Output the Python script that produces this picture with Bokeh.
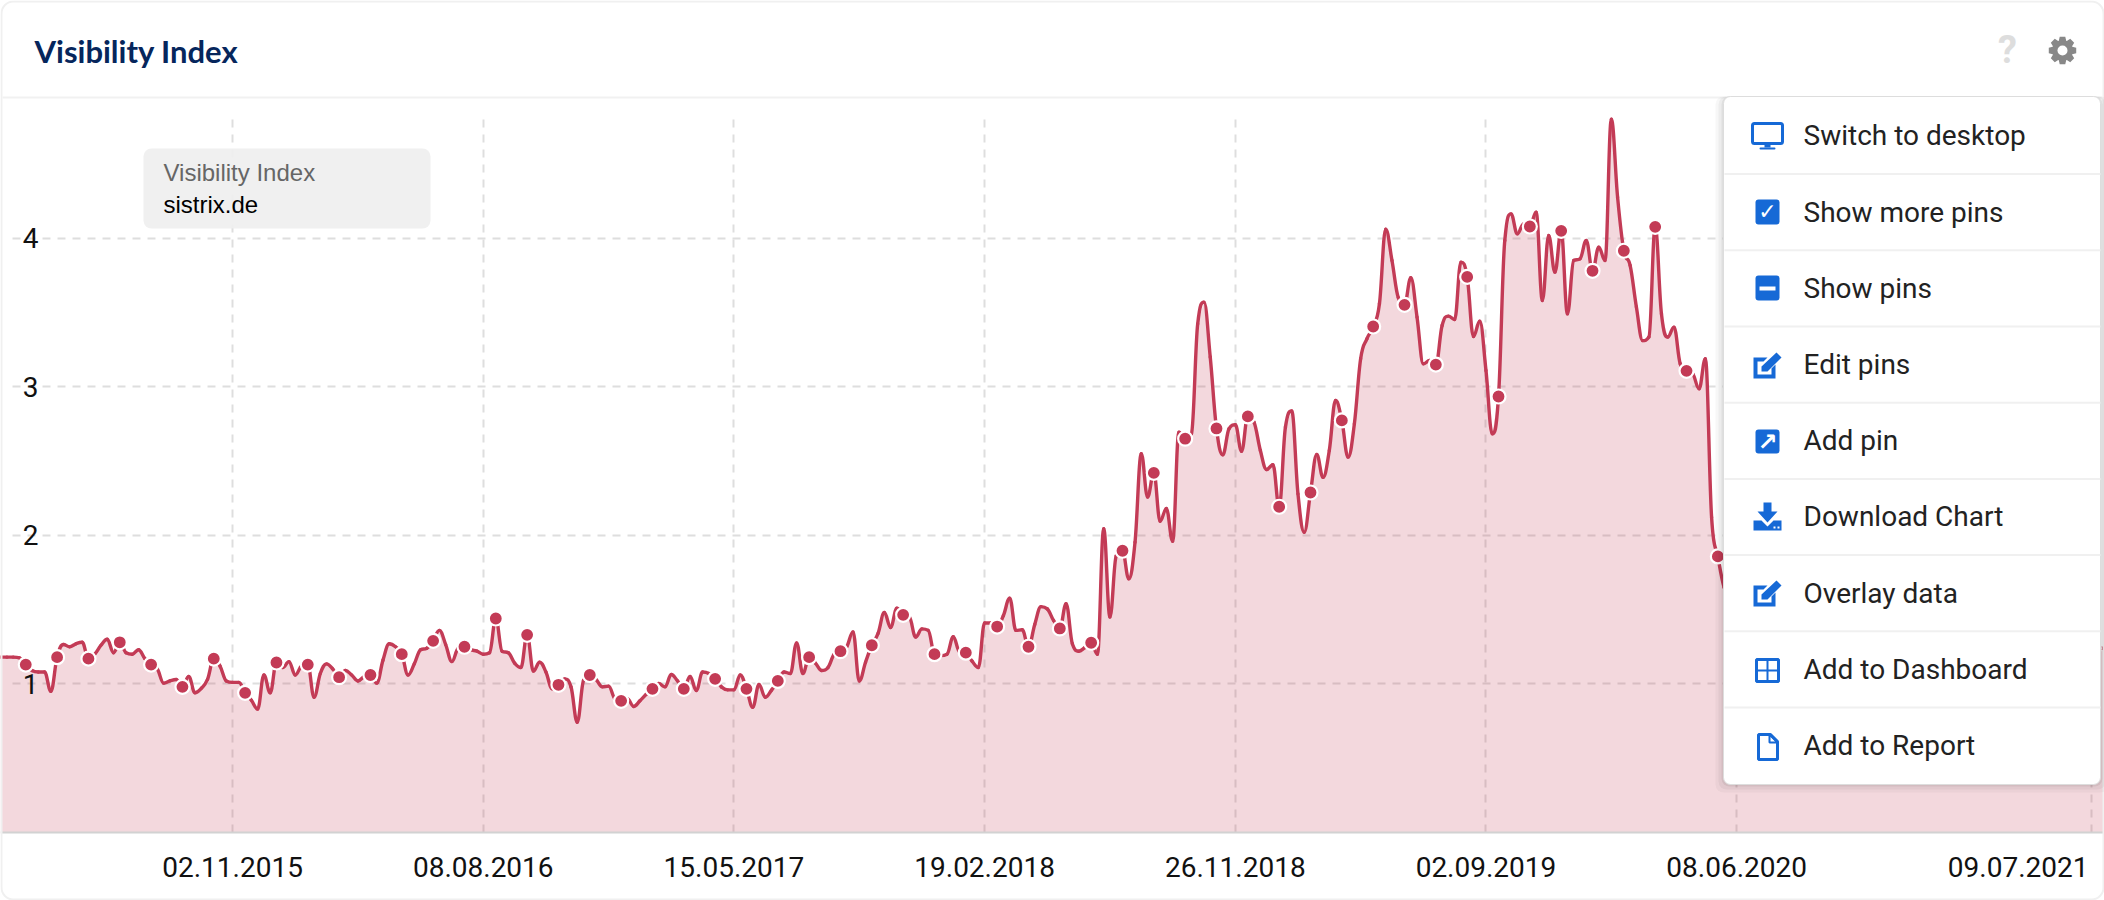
import math
from datetime import datetime, timedelta, timezone
from bokeh.embed import file_html
from bokeh.models import (BoxAnnotation, FixedTicker, Label, PolyAnnotation,
                          Range1d)
from bokeh.plotting import figure
from bokeh.resources import INLINE

# ---------- data ----------
title_text = "Visibility Index"
legend_title = "Visibility Index"
legend_domain = "sistrix.de"
tick_labels = ["02.11.2015", "08.08.2016", "15.05.2017", "19.02.2018",
               "26.11.2018", "02.09.2019", "08.06.2020", "09.07.2021"]
y_ticks = [1, 2, 3, 4]
menu_items = ["Switch to desktop", "Show more pins", "Show pins", "Edit pins",
              "Add pin", "Download Chart", "Overlay data", "Add to Dashboard",
              "Add to Report"]
first_week = "16.02.2015"

visibility_2015_16 = [
    1.18, 1.18, 1.18, 1.175, 1.13, 1.09, 1.08, 1.08, 0.95, 1.18, 1.265, 1.25,
    1.27, 1.28, 1.17, 1.20, 1.26, 1.30, 1.21, 1.28, 1.21, 1.20, 1.23, 1.17,
    1.13, 1.10, 1.005, 1.02, 1.03, 0.98, 1.05, 0.94, 0.97, 1.03, 1.17, 1.12,
    1.02, 1.01, 1.01, 0.94, 0.89, 0.83, 1.06, 0.94, 1.144, 1.11, 1.15, 1.06,
    1.12, 1.13, 0.91, 1.07, 1.135, 1.10, 1.045, 1.09, 1.06, 1.02, 1.05, 1.06,
    1.005, 1.16, 1.27, 1.25, 1.20, 1.06, 1.135, 1.23, 1.24, 1.29, 1.36, 1.265,
    1.15, 1.24, 1.25, 1.23, 1.22, 1.20, 1.21, 1.44, 1.22, 1.21, 1.14, 1.11,
]
visibility_2016_18 = [
    1.33, 1.086, 1.146, 1.08, 0.967, 0.994, 1.034, 0.98, 0.742, 1.023, 1.06,
    1.03, 0.98, 0.985, 0.90, 0.886, 0.90, 0.848, 0.886, 0.93, 0.967, 1.003,
    0.98, 1.063, 1.02, 0.967, 1.05, 0.956, 1.08, 1.07, 1.034, 0.98, 0.96, 0.96,
    1.06, 0.967, 0.843, 0.996, 0.91, 0.958, 1.02, 1.08, 1.07, 1.276, 1.07,
    1.18, 1.14, 1.09, 1.11, 1.20, 1.22, 1.25, 1.35, 1.02, 1.146, 1.26, 1.34,
    1.48, 1.38, 1.51, 1.465, 1.45, 1.315, 1.37, 1.36, 1.20, 1.19, 1.20, 1.317,
    1.216, 1.21, 1.153, 1.11, 1.41, 1.41, 1.386, 1.46, 1.577, 1.36, 1.364,
    1.25, 1.40, 1.52,
]
visibility_2018_19 = [
    1.505, 1.427, 1.373, 1.54, 1.27, 1.22, 1.245, 1.277, 1.20, 2.044, 1.45,
    1.862, 1.896, 1.707, 1.954, 2.549, 2.257, 2.42, 2.095, 2.18, 1.96, 2.694,
    2.65, 2.683, 3.423, 3.569, 3.20, 2.719, 2.542, 2.717, 2.744, 2.566, 2.80,
    2.76, 2.571, 2.443, 2.475, 2.192, 2.728, 2.836, 2.279, 2.021, 2.288, 2.544,
    2.39, 2.571, 2.907, 2.773,
]
visibility_2019_20 = [
    2.526, 2.75, 3.188, 3.322, 3.405, 3.558, 4.06, 3.849, 3.60, 3.551, 3.733,
    3.468, 3.154, 3.176, 3.149, 3.412, 3.475, 3.452, 3.838, 3.739, 3.338,
    3.441, 3.109, 2.683, 2.934, 3.984, 4.163, 4.029, 4.096, 4.078, 4.175, 3.58,
    4.017, 3.771, 4.049, 3.49, 3.849, 3.86, 3.984, 3.78, 3.939, 3.849, 4.80,
    4.276, 3.915, 3.816, 3.536, 3.31, 3.334, 4.076, 3.49, 3.334, 3.401, 3.154,
    3.107, 3.087, 2.986, 3.188, 2.122, 1.858, 1.65,
]
# weeks hidden behind the menu: rough estimates, only the fill below it shows
visibility_hidden = [
    1.58, 1.55, 1.52, 1.50, 1.54, 1.50, 1.47, 1.45, 1.48, 1.46, 1.43, 1.40,
    1.44, 1.42, 1.39, 1.37, 1.40, 1.42, 1.38, 1.36, 1.39, 1.35, 1.33, 1.36,
    1.38, 1.34, 1.32, 1.30, 1.33, 1.35, 1.31, 1.29, 1.32, 1.30, 1.28, 1.31,
    1.33, 1.29, 1.27, 1.30, 1.28, 1.26, 1.29, 1.31, 1.27, 1.25, 1.28, 1.26,
    1.24, 1.27, 1.25, 1.23, 1.26, 1.24, 1.22, 1.25, 1.24, 1.23, 1.24, 1.24,
    1.24, 1.24,
]

visibility = (visibility_2015_16 + visibility_2016_18 + visibility_2018_19
              + visibility_2019_20 + visibility_hidden)


# ---------- helpers ----------
def ms(d):
    return d.replace(tzinfo=timezone.utc).timestamp() * 1000


def parse(s):
    return datetime.strptime(s, "%d.%m.%Y")


RED = "#c33b56"
BLUE = "#1669d6"
DAY = 86400000.0
PX_DAYS = 7 / 6.267          # days per screen pixel

start = parse(first_week)
week_ms = [ms(start + timedelta(days=7 * i)) for i in range(len(visibility))]
tick_ms = [ms(parse(s)) for s in tick_labels]
pin_ms = week_ms[4::5]
pin_values = visibility[4::5]

W, H = 2104, 900
BASE_Y = 832
PX_PER_UNIT = 148.6


def x_at(px):
    return ms(start) + (px - 0.2) * PX_DAYS * DAY


p = figure(width=W, height=H, output_backend="svg", toolbar_location=None,
           x_range=Range1d(x_at(0), x_at(W)),
           y_range=Range1d((BASE_Y - H) / PX_PER_UNIT, BASE_Y / PX_PER_UNIT),
           min_border=0,
           background_fill_color="white", border_fill_color="white")
p.outline_line_color = None

# axes, both placed inside the frame
ax = p.xaxis[0]
ax.fixed_location = 0
ax.ticker = FixedTicker(ticks=tick_ms)
ax.major_label_overrides = {int(t): s for t, s in zip(tick_ms[:-1], tick_labels[:-1])}
ax.major_label_overrides[int(tick_ms[-1])] = ""
ax.major_tick_line_color = None
ax.minor_tick_line_color = None
ax.axis_line_color = "#d2d2d2"
ax.axis_line_width = 2
ax.major_label_standoff = 18
ax.major_label_text_font = "Roboto"
ax.major_label_text_font_size = "28px"
ax.major_label_text_color = "#111111"

ay = p.yaxis[0]
ay.ticker = FixedTicker(ticks=y_ticks)
ay.fixed_location = x_at(44)
ay.major_tick_line_color = None
ay.minor_tick_line_color = None
ay.axis_line_color = None
ay.major_label_standoff = 0
ay.major_label_text_font = "Roboto"
ay.major_label_text_font_size = "28px"
ay.major_label_text_color = "#111111"

for g, bounds in ((p.xgrid[0], (0, 4.8)), (p.ygrid[0], (x_at(12), x_at(2096)))):
    g.grid_line_color = "#dedede"
    g.grid_line_width = 2
    g.grid_line_dash = "8 7"
    g.cross_bounds = bounds
p.xgrid[0].ticker = FixedTicker(ticks=tick_ms)
p.ygrid[0].ticker = FixedTicker(ticks=y_ticks)

# area
p.varea(x=week_ms, y1=[0] * len(week_ms), y2=visibility,
        fill_color=RED, fill_alpha=0.2)

# spline line: one Bezier segment per week, through the read values only
n = len(week_ms)
left_y, right_y = [0.0] * n, [0.0] * n
for i in range(n):
    y = visibility[i]
    prev_y = visibility[i - 1] if i > 0 else y
    next_y = visibility[i + 1] if i < n - 1 else y
    l = y - 0.2 * (next_y - prev_y)
    r = y + 0.2 * (next_y - prev_y)
    if l > max(prev_y, y):
        l = max(prev_y, y); r = 2 * y - l
    elif l < min(prev_y, y):
        l = min(prev_y, y); r = 2 * y - l
    if r > max(next_y, y):
        r = max(next_y, y); l = 2 * y - r
    elif r < min(next_y, y):
        r = min(next_y, y); l = 2 * y - r
    left_y[i], right_y[i] = l, r
p.bezier(x0=week_ms[:-1], y0=visibility[:-1], x1=week_ms[1:], y1=visibility[1:],
         cx0=[a + 0.4 * (b - a) for a, b in zip(week_ms[:-1], week_ms[1:])], cy0=right_y[:-1],
         cx1=[b - 0.4 * (b - a) for a, b in zip(week_ms[:-1], week_ms[1:])], cy1=left_y[1:],
         line_color=RED, line_width=3.4, line_cap="round")

# pins
p.scatter(x=pin_ms, y=pin_values, size=14, fill_color=RED,
          line_color="white", line_width=2.2)


# ---------- chrome, in picture pixels ----------
def box(l, t, r, b, fill=None, line=None, lw=1, radius=0, alpha=1.0):
    p.add_layout(BoxAnnotation(
        left=l, right=r, top=t, bottom=b,
        left_units="canvas", right_units="canvas", top_units="canvas", bottom_units="canvas",
        fill_color=fill, fill_alpha=alpha if fill else 0,
        line_color=line, line_width=lw, line_alpha=1 if line else 0,
        border_radius=radius, editable=False))


def poly(points, fill=BLUE, line=None, lw=1):
    p.add_layout(PolyAnnotation(
        xs=[a for a, _ in points], ys=[b for _, b in points],
        xs_units="canvas", ys_units="canvas",
        fill_color=fill, fill_alpha=1 if fill else 0,
        line_color=line, line_width=lw, line_alpha=1 if line else 0))


def text(s, x, cy, size, color, font="Roboto", style="normal", align="left"):
    p.add_layout(Label(x=x, y=cy, x_units="canvas", y_units="canvas",
                       text=s, text_font=font, text_font_size=f"{size}px",
                       text_font_style=style, text_color=color,
                       text_align=align, text_baseline="middle"))


# last date label sits inside the right edge
text(tick_labels[-1], 2088, 866, 28, "#111111", align="right")

# card outline
box(1, 1, W - 1, H - 1, line="#f0f0f0", lw=2, radius=12)

# header
box(2, 96, W - 2, 98, fill="#f1f1f1")
text(title_text, 34, 50, 31, "#06265c", font="Lato", style="bold")
text("?", 2007, 49, 38, "#dddddd", style="bold", align="center")

# gear: eight teeth and a white hole
gear = []
for k in range(8):
    a = k * math.pi / 4
    for da, rad in ((-0.36, 10.5), (-0.2, 14), (0.2, 14), (0.36, 10.5)):
        gear.append((2062 + rad * math.cos(a + da), 50 + rad * math.sin(a + da)))
poly(gear, fill="#888888")
box(2057, 45, 2067, 55, fill="white", radius=5)

# value box
box(143, 148, 430, 228, fill="#efefef", radius=8, alpha=0.92)
text(legend_title, 163, 172, 24, "#666666", font="Liberation Sans")
text(legend_domain, 163, 204, 24, "#000000", font="Liberation Sans")

# menu
for grow, a in ((8, 0.03), (5, 0.04), (2, 0.06)):
    box(1723 - grow, 96, 2100 + grow, 784 + grow, fill="#000000", radius=8, alpha=a)
box(1723, 96, 2100, 784, fill="white", line="#dddddd", lw=1, radius=7)
ROW_H = 76.2
for k, item in enumerate(menu_items):
    cy = 135.4 + ROW_H * k
    text(item, 1803, cy, 28, "#222222")
    if k:
        box(1724, cy - 39, 2100, cy - 37, fill="#f0f0f0")

cx = 1767
# 0 monitor
box(cx - 15, 123, cx + 15, 143, line=BLUE, lw=3, radius=2)
box(cx - 3, 143, cx + 3, 147, fill=BLUE)
box(cx - 8, 147, cx + 8, 149, fill=BLUE, radius=1)
# 1 checked box
box(cx - 12, 199, cx + 12, 224, fill=BLUE, radius=3)
text("\u2713", cx, 211, 22, "white", font="DejaVu Sans", style="bold", align="center")
# 2 minus box
box(cx - 12, 275, cx + 12, 300, fill=BLUE, radius=3)
box(cx - 8, 286, cx + 8, 290, fill="white")


def edit_icon(cy):
    poly([(cx - 14, cy - 8), (cx + 0, cy - 8), (cx - 4, cy - 4), (cx - 10, cy - 4),
          (cx - 10, cy + 9), (cx + 4, cy + 9), (cx + 4, cy + 3), (cx + 8, cy - 1),
          (cx + 8, cy + 13), (cx - 14, cy + 13)])
    poly([(cx - 6, cy + 1), (cx + 9, cy - 13), (cx + 14, cy - 8),
          (cx + 0, cy + 6), (cx - 6, cy + 6)])


# 3 edit
edit_icon(365)
# 4 add pin
box(cx - 12, 429, cx + 12, 453, fill=BLUE, radius=3)
text("\u2197", cx, 441, 24, "white", font="DejaVu Sans", style="bold", align="center")
# 5 download
poly([(cx - 4, 502), (cx + 4, 502), (cx + 4, 511), (cx + 10, 511), (cx, 522),
      (cx - 10, 511), (cx - 4, 511)])
poly([(cx - 14, 520), (cx - 6, 520), (cx, 526), (cx + 6, 520), (cx + 14, 520),
      (cx + 14, 530), (cx - 14, 530)])
box(cx + 6, 526, cx + 8, 528, fill="white")
box(cx + 10, 526, cx + 12, 528, fill="white")
# 6 overlay
edit_icon(593)
# 7 dashboard
box(cx - 11, 659, cx + 11, 681, line=BLUE, lw=3)
box(cx - 1, 659, cx + 1, 681, fill=BLUE)
box(cx - 11, 669, cx + 11, 671, fill=BLUE)
# 8 report
poly([(cx - 9, 734), (cx + 3, 734), (cx + 10, 741), (cx + 10, 759), (cx - 9, 759)],
     fill=None, line=BLUE, lw=3)
poly([(cx + 2, 734), (cx + 2, 742), (cx + 10, 742)], fill=None, line=BLUE, lw=2)

open("out.html", "w").write(file_html(p, INLINE))
